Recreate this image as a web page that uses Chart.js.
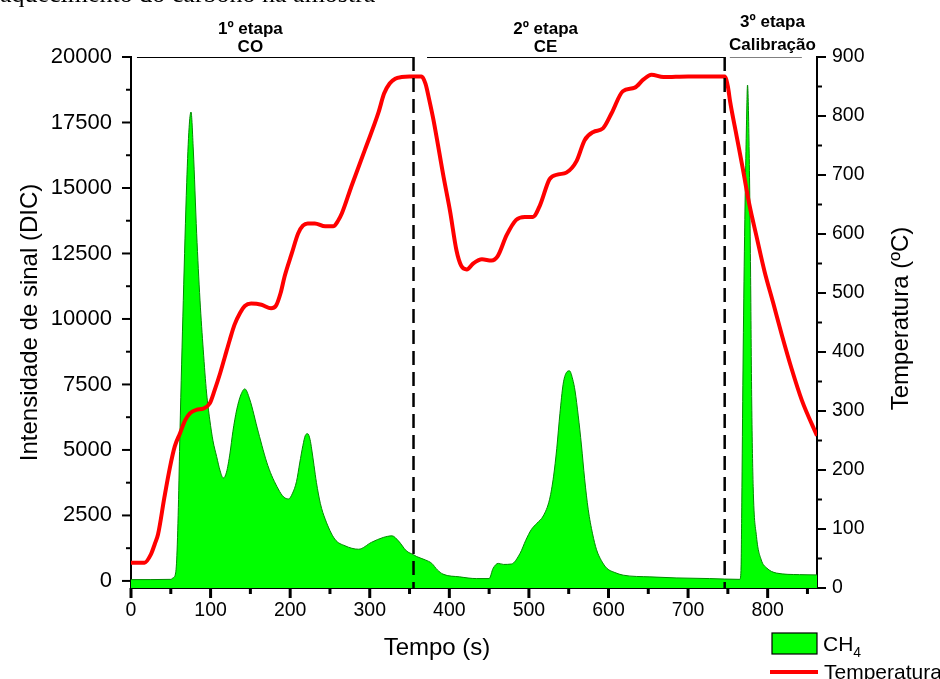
<!DOCTYPE html>
<html lang="pt">
<head>
<meta charset="utf-8">
<title>CH4 e temperatura</title>
<script src="https://cdn.jsdelivr.net/npm/chart.js@4.4.1/dist/chart.umd.min.js"></script>
<style>
  html, body { margin: 0; padding: 0; background: #fff; }
  #wrap { width: 940px; height: 679px; }
</style>
</head>
<body>
<div id="wrap"><canvas id="grafico" width="940" height="679"></canvas></div>
<script>
// Sinal do DIC (CH4) ao longo do tempo
const tempoCH4 = [0, 50, 53, 55.3, 57.4, 59.5, 61.5, 65.7, 70, 73,
    75.4, 78.3, 82.5, 86.7, 90.8, 95, 99, 103, 107.6, 112,
    116, 120, 124.4, 128, 132.8, 138, 143, 149, 160, 172,
    185, 192, 198, 203, 208, 212, 216, 219, 222, 225,
    227, 230, 233, 238, 244, 256, 269, 286, 302, 317,
    328, 336, 346, 355, 359, 370, 378, 385, 392, 413,
    434, 450, 455, 461.5, 468, 478, 489, 496, 503, 510,
    518, 526, 531, 535, 539, 543, 547, 551, 555, 558,
    562, 566, 570, 574.5, 580, 585, 591, 598, 608, 618.5,
    652, 685, 727, 765, 766.5, 767.5, 769, 771, 773.5, 774.7,
    776.8, 778.5, 780, 781.8, 786, 792, 798.6, 811, 840, 862];
const sinalCH4 = [50, 60, 120, 200, 800, 2800, 5650, 10700, 15200, 17300,
    17900, 16450, 13270, 10720, 8820, 7170, 6150, 5350, 4750, 4200,
    3930, 4150, 4880, 5700, 6530, 7100, 7330, 6950, 5680, 4400,
    3510, 3200, 3130, 3350, 3800, 4500, 5170, 5550, 5620, 5400,
    5040, 4400, 3760, 2950, 2360, 1600, 1340, 1210, 1470, 1660,
    1720, 1530, 1150, 1000, 930, 800, 670, 420, 260, 155,
    90, 90, 480, 670, 630, 645, 1060, 1550, 1960, 2200,
    2480, 3120, 4000, 5060, 6400, 7510, 7950, 8020, 7700, 7250,
    6300, 5190, 3900, 2735, 1800, 1190, 780, 480, 320, 220,
    155, 115, 90, 60, 400, 2980, 8050, 13140, 17600, 18930,
    16330, 11870, 6790, 3600, 1690, 800, 500, 300, 240, 230];

// Temperatura do forno
const tempoTemp = [0, 17, 25, 30, 34, 42, 49, 55, 61.5, 68,
    74, 82, 90.8, 99, 105, 112, 118, 124, 130, 137,
    143, 151, 164, 176, 182, 188, 193, 202, 210, 216,
    222, 231, 244, 254, 260, 265, 277, 294, 311, 318,
    325, 332, 340, 350, 365, 370, 375, 380, 393, 401,
    409, 415, 422, 430, 441, 453, 461, 472, 484, 495,
    505, 514, 526, 537, 547, 560, 570, 581, 593, 604,
    618, 633, 644, 654, 669, 700, 746, 750, 753, 761,
    769, 777, 786, 796, 807, 818, 830, 843, 862];
const temperatura = [43, 43, 57, 75, 91, 154, 205, 240, 262, 284,
    296, 302, 304, 313, 335, 364, 392, 420, 446, 466,
    478, 482, 480, 474, 478, 500, 528, 567, 601, 614,
    618, 618, 613, 613, 622, 635, 681, 743, 806, 838,
    855, 863, 866, 867, 867, 855, 826, 794, 695, 638,
    572, 546, 540, 550, 557, 555, 563, 598, 624, 629,
    629, 649, 693, 701, 704, 724, 759, 773, 779, 805,
    842, 848, 862, 870, 866, 867, 867, 850, 823, 766,
    709, 650, 596, 537, 483, 428, 372, 318, 258];

// Eixos
const ticksTempo = [0, 100, 200, 300, 400, 500, 600, 700, 800];
const ticksTempoMenor = [50, 150, 250, 350, 450, 550, 650, 750, 850];
const ticksSinal = [0, 2500, 5000, 7500, 10000, 12500, 15000, 17500, 20000];
const ticksSinalMenor = [1250, 3750, 6250, 8750, 11250, 13750, 16250, 18750];
const ticksTemp = [0, 100, 200, 300, 400, 500, 600, 700, 800, 900];
const ticksTempMenor = [50, 150, 250, 350, 450, 550, 650, 750, 850];

// Etapas da análise
const etapas = ['1º etapa', '2º etapa', '3º etapa'];
const etapasSub = ['CO', 'CE', 'Calibração'];
const etapaInicio = [7.5, 372, 752.5];
const etapaFim = [355, 746, 843];
const etapaRotulo = [150, 521, 806];
const divisoes = [355, 746];

const legendaTopo = 'aquecimento do carbono na amostra';
const fonte = '"Liberation Sans", Arial, sans-serif';
const VERDE = '#00ff00';
const VERMELHO = '#ff0000';

function pontos(xs, ys) {
    return xs.map((t, i) => ({ x: t, y: ys[i] }));
}

// marcas dos eixos (para fora), maiores nos valores com rótulo
function marcas(ctx, scale, valores, comp, lado) {
    valores.forEach(v => {
        const p = scale.getPixelForValue(v);
        ctx.beginPath();
        if (lado === 'baixo') {
            ctx.moveTo(p, scale.top);
            ctx.lineTo(p, scale.top + comp);
        } else if (lado === 'esq') {
            ctx.moveTo(scale.right, p);
            ctx.lineTo(scale.right - comp, p);
        } else {
            ctx.moveTo(scale.left, p);
            ctx.lineTo(scale.left + comp, p);
        }
        ctx.stroke();
    });
}

const desenho = {
    id: 'desenho',
    beforeDraw(chart) {
        const ctx = chart.ctx;
        ctx.save();
        ctx.fillStyle = '#fff';
        ctx.fillRect(0, 0, chart.width, chart.height);
        // resto da legenda da figura, cortada no topo
        ctx.fillStyle = '#000';
        ctx.font = '26px "Liberation Serif", "Times New Roman", serif';
        ctx.textAlign = 'left';
        ctx.textBaseline = 'alphabetic';
        ctx.fillText(legendaTopo, 0, 2);
        ctx.restore();
    },
    afterDatasetsDraw(chart) {
        const { ctx, chartArea: area, scales: { x } } = chart;
        ctx.save();

        // divisões entre etapas
        ctx.strokeStyle = '#000';
        ctx.lineWidth = 2.5;
        ctx.setLineDash([14, 7]);
        divisoes.forEach(t => {
            const px = x.getPixelForValue(t);
            ctx.beginPath();
            ctx.moveTo(px, area.top);
            ctx.lineTo(px, area.bottom);
            ctx.stroke();
        });
        ctx.setLineDash([]);

        // traço de cada etapa no topo
        etapaInicio.forEach((t0, i) => {
            ctx.strokeStyle = i === 2 ? '#808080' : '#000';
            ctx.lineWidth = 1;
            ctx.beginPath();
            ctx.moveTo(x.getPixelForValue(t0), area.top + 0.5);
            ctx.lineTo(x.getPixelForValue(etapaFim[i]), area.top + 0.5);
            ctx.stroke();
        });

        // nomes das etapas
        const alturas = [[34, 52], [34, 52], [27, 50]];
        ctx.fillStyle = '#000';
        ctx.font = 'bold 17px ' + fonte;
        ctx.textAlign = 'center';
        ctx.textBaseline = 'alphabetic';
        etapas.forEach((nome, i) => {
            const px = x.getPixelForValue(etapaRotulo[i]);
            ctx.fillText(nome, px, alturas[i][0]);
            ctx.fillText(etapasSub[i], px, alturas[i][1]);
        });
        ctx.restore();
    },
    afterDraw(chart) {
        const { ctx, chartArea: area, scales: { x, y, yT } } = chart;
        ctx.save();
        ctx.strokeStyle = '#000';
        ctx.lineCap = 'butt';

        ctx.lineWidth = 3;
        marcas(ctx, x, ticksTempo, 10, 'baixo');
        marcas(ctx, x, ticksTempoMenor, 6, 'baixo');
        ctx.lineWidth = 2;
        marcas(ctx, y, ticksSinal, 9, 'esq');
        marcas(ctx, y, ticksSinalMenor, 5, 'esq');
        marcas(ctx, yT, ticksTemp, 9, 'dir');
        marcas(ctx, yT, ticksTempMenor, 5, 'dir');

        // títulos do eixo x e do eixo da temperatura
        ctx.fillStyle = '#000';
        ctx.font = '24px ' + fonte;
        ctx.textAlign = 'center';
        ctx.textBaseline = 'middle';
        ctx.fillText('Tempo (s)', 437, 648);
        ctx.save();
        ctx.translate(901, (area.top + area.bottom) / 2 - 4);
        ctx.rotate(-Math.PI / 2);
        ctx.fillText('Temperatura (ºC)', 0, 0);
        ctx.restore();

        // legenda
        ctx.fillStyle = VERDE;
        ctx.fillRect(772, 633, 45, 21);
        ctx.lineWidth = 1.2;
        ctx.strokeStyle = '#000';
        ctx.strokeRect(772, 633, 45, 21);
        ctx.fillStyle = '#000';
        ctx.textAlign = 'left';
        ctx.textBaseline = 'alphabetic';
        ctx.font = '21px ' + fonte;
        ctx.fillText('CH', 823, 651);
        const larguraCH = ctx.measureText('CH').width;
        ctx.font = '14px ' + fonte;
        ctx.fillText('4', 823 + larguraCH, 657);

        ctx.strokeStyle = VERMELHO;
        ctx.lineWidth = 4;
        ctx.beginPath();
        ctx.moveTo(770, 672);
        ctx.lineTo(818, 672);
        ctx.stroke();
        ctx.font = '21px ' + fonte;
        ctx.fillText('Temperatura', 824, 679);
        ctx.restore();
    }
};

const eixoBase = {
    grid: { display: true, drawOnChartArea: false, drawTicks: false },
    border: { display: true, color: '#000', width: 2 }
};

new Chart(document.getElementById('grafico'), {
    type: 'line',
    data: {
        datasets: [
            {
                label: 'Temperatura',
                data: pontos(tempoTemp, temperatura),
                yAxisID: 'yT',
                borderColor: VERMELHO,
                borderWidth: 4,
                pointRadius: 0,
                fill: false,
                cubicInterpolationMode: 'monotone'
            },
            {
                label: 'CH4',
                data: pontos(tempoCH4, sinalCH4),
                yAxisID: 'y',
                borderColor: '#008a00',
                borderWidth: 1,
                backgroundColor: VERDE,
                pointRadius: 0,
                fill: 'start',
                cubicInterpolationMode: 'monotone'
            }
        ]
    },
    options: {
        responsive: false,
        animation: false,
        layout: { padding: { top: 57, left: 0, right: 0, bottom: 0 } },
        plugins: {
            legend: { display: false },
            tooltip: { enabled: false }
        },
        scales: {
            x: {
                ...eixoBase,
                type: 'linear',
                position: 'bottom',
                min: 0,
                max: 862,
                afterBuildTicks: s => { s.ticks = ticksTempo.map(v => ({ value: v })); },
                afterFit: s => { s.height = 91; },
                ticks: {
                    color: '#000',
                    font: { family: fonte, size: 19.5 },
                    padding: 11,
                    maxRotation: 0,
                    autoSkip: false,
                    callback: v => String(v)
                }
            },
            y: {
                ...eixoBase,
                type: 'linear',
                position: 'left',
                min: -270,
                max: 20000,
                afterBuildTicks: s => { s.ticks = ticksSinal.map(v => ({ value: v })); },
                afterFit: s => { s.width = 131; },
                ticks: {
                    color: '#000',
                    font: { family: fonte, size: 22 },
                    padding: 19,
                    autoSkip: false,
                    callback: v => String(v)
                },
                title: {
                    display: true,
                    text: 'Intensidade de sinal (DIC)',
                    color: '#000',
                    font: { family: fonte, size: 24 },
                    padding: { top: 16, bottom: 0 }
                }
            },
            yT: {
                ...eixoBase,
                type: 'linear',
                position: 'right',
                min: 0,
                max: 900,
                afterBuildTicks: s => { s.ticks = ticksTemp.map(v => ({ value: v })); },
                afterFit: s => { s.width = 123; },
                ticks: {
                    color: '#000',
                    font: { family: fonte, size: 19.5 },
                    padding: 15,
                    autoSkip: false,
                    callback: v => String(v)
                }
            }
        }
    },
    plugins: [desenho]
});
</script>
</body>
</html>
